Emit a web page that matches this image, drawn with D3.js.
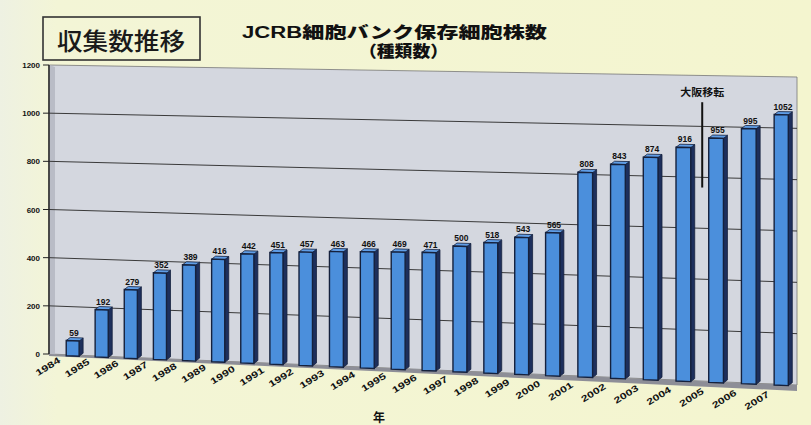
<!DOCTYPE html>
<html><head><meta charset="utf-8">
<script src="https://cdn.jsdelivr.net/npm/d3@7"></script>
<style>html,body{margin:0;padding:0;background:#f4f5d2;}svg{display:block;}</style>
</head><body>
<svg id="c" width="811" height="425"></svg>
<script>
const years = ["1984","1985","1986","1987","1988","1989","1990","1991","1992","1993","1994","1995","1996","1997","1998","1999","2000","2001","2002","2003","2004","2005","2006","2007"];
const counts = [59,192,279,352,389,416,442,451,457,463,466,469,471,500,518,543,565,808,843,874,916,955,995,1052];
const yTicks = [0,200,400,600,800,1000,1200];
const boxTitle = "収集数推移";
const titleLine1 = "JCRB細胞バンク保存細胞株数";
const titleLine2 = "（種類数）";
const xAxisTitle = "年";
const noteText = "大阪移転";
const noteBetween = ["2004","2005"];
const noteRange = [760, 1095];

const svg = d3.select("#c");
const FONT = "'Liberation Sans','Noto Sans CJK JP',sans-serif";

// background
const defs = svg.append("defs");
const bg = defs.append("linearGradient").attr("id","bg").attr("x1","0").attr("x2","1").attr("y1","0").attr("y2","0");
bg.append("stop").attr("offset","0").attr("stop-color","#eef1e2");
bg.append("stop").attr("offset","0.07").attr("stop-color","#f3f5d6");
bg.append("stop").attr("offset","1").attr("stop-color","#f4f5cf");
svg.append("rect").attr("width",811).attr("height",425).attr("fill","url(#bg)");

// scales (3D-like perspective)
const pos = d3.scalePoint().domain(years).range([0, years.length-1]);
const X = d3.scaleLinear().domain([-0.85,0,8,16,23,23.5]).range([49,73,306,553,782,797]);
const x0 = X(-0.85), x1 = X(23.5);
const zeroY = d3.scaleLinear().domain([x0,x1]).range([354,385]);
const topY = d3.scaleLinear().domain([x0,x1]).range([65,77]);
const py = (x,v) => d3.scaleLinear().domain([0,1200]).range([zeroY(x), topY(x)])(v);

const g = svg.append("g");
// wall
g.append("polygon")
  .attr("points",[[x0,py(x0,1200)],[x1,py(x1,1200)],[x1,py(x1,0)],[x0,py(x0,0)]].join(" "))
  .attr("fill","#d4d7df").attr("stroke","#777").attr("stroke-width",0.8);
// side strip
g.append("polygon")
  .attr("points",[[x0,py(x0,1200)],[x0+6,py(x0,1200)+2],[x0+6,py(x0,0)+2],[x0,py(x0,0)]].join(" "))
  .attr("fill","#b9bcc6");
// floor
g.append("polygon")
  .attr("points",[[x0,py(x0,0)],[x1,py(x1,0)],[x1,py(x1,0)+6],[x0,py(x0,0)+2]].join(" "))
  .attr("fill","#8d8e97");
// gridlines
g.selectAll(".grid").data(yTicks.filter(t=>t>0 && t<1200)).join("line")
  .attr("x1",x0).attr("x2",x1)
  .attr("y1",d=>py(x0,d)).attr("y2",d=>py(x1,d))
  .attr("stroke","#3a3a3a").attr("stroke-width",1);
// axis
g.append("line").attr("x1",x0).attr("x2",x0).attr("y1",py(x0,1200)).attr("y2",py(x0,0))
  .attr("stroke","#222").attr("stroke-width",1.5);
g.selectAll(".tk").data(yTicks).join("line")
  .attr("x1",x0-6).attr("x2",x0).attr("y1",d=>py(x0,d)).attr("y2",d=>py(x0,d))
  .attr("stroke","#222").attr("stroke-width",1);
g.selectAll(".tl").data(yTicks).join("text")
  .attr("x",x0-9).attr("y",d=>py(x0,d)+3).attr("text-anchor","end")
  .attr("font-family",FONT).attr("font-weight","bold").attr("font-size",8).attr("fill","#111")
  .text(d=>d);

// bars
const data = years.map((y,i)=>({year:y, v:counts[i]}));
const bars = g.selectAll(".bar").data(data).join("g");
bars.each(function(d){
  const s = d3.select(this);
  const xl = X(pos(d.year)-0.24), xr = X(pos(d.year)+0.21);
  const tl = py(xl,d.v), tr = py(xr,d.v), bl = py(xl,0)+1, br = py(xr,0)+1;
  s.append("polygon").attr("points",[[xr,tr],[xr+4,tr-3],[xr+4,br-3],[xr,br]].join(" "))
    .attr("fill","#1d2f5c").attr("stroke","#15213d").attr("stroke-width",0.8);
  s.append("polygon").attr("points",[[xl,tl],[xl+4,tl-3],[xr+4,tr-3],[xr,tr]].join(" "))
    .attr("fill","#5f9de6").attr("stroke","#15213d").attr("stroke-width",0.8);
  s.append("polygon").attr("points",[[xl,tl],[xr,tr],[xr,br],[xl,bl]].join(" "))
    .attr("fill","#4b8fdc").attr("stroke","#15213d").attr("stroke-width",1.4);
  const cx = X(pos(d.year));
  s.append("text").attr("x",cx+1).attr("y",py(cx,d.v)-5).attr("text-anchor","middle")
    .attr("font-family",FONT).attr("font-weight","bold").attr("font-size",8.5).attr("fill","#111")
    .text(d.v);
  const lx = cx-12, ly = py(cx,0)+7+pos(d.year)*0.2;
  s.append("text").attr("transform",`translate(${lx},${ly}) rotate(-32)`).attr("text-anchor","end")
    .attr("font-family",FONT).attr("font-weight","bold").attr("font-size",9).attr("fill","#111")
    .attr("textLength",27).attr("lengthAdjust","spacingAndGlyphs")
    .text(d.year);
});

// annotation
const nx = X((pos(noteBetween[0])+pos(noteBetween[1]))/2)+2;
g.append("line").attr("x1",nx).attr("x2",nx).attr("y1",py(nx,noteRange[1])).attr("y2",py(nx,noteRange[0]))
  .attr("stroke","#111").attr("stroke-width",2);
g.append("text").attr("x",nx).attr("y",py(nx,noteRange[1])-6).attr("text-anchor","middle")
  .attr("font-family",FONT).attr("font-weight","bold").attr("font-size",10).attr("fill","#111")
  .attr("textLength",44).attr("lengthAdjust","spacingAndGlyphs").text(noteText);

// x axis title
svg.append("text").attr("x",379).attr("y",422).attr("text-anchor","middle")
  .attr("font-family",FONT).attr("font-weight","bold").attr("font-size",12).attr("fill","#111").text(xAxisTitle);

// titles
svg.append("rect").attr("x",43).attr("y",17).attr("width",157).attr("height",43)
  .attr("fill","none").attr("stroke","#333").attr("stroke-width",1.6);
svg.append("text").attr("x",57).attr("y",50)
  .attr("font-family","'Noto Sans CJK JP',sans-serif").attr("font-weight","500").attr("font-size",24).attr("fill","#1a1a1a")
  .attr("textLength",128).attr("lengthAdjust","spacingAndGlyphs").text(boxTitle);
svg.append("text").attr("x",242).attr("y",38)
  .attr("font-family",FONT).attr("font-weight","900").attr("font-size",16).attr("fill","#111")
  .attr("textLength",305).attr("lengthAdjust","spacingAndGlyphs").text(titleLine1);
svg.append("text").attr("x",359).attr("y",57)
  .attr("font-family",FONT).attr("font-weight","900").attr("font-size",16).attr("fill","#111")
  .attr("textLength",89).attr("lengthAdjust","spacingAndGlyphs").text(titleLine2);
</script>
</body></html>
